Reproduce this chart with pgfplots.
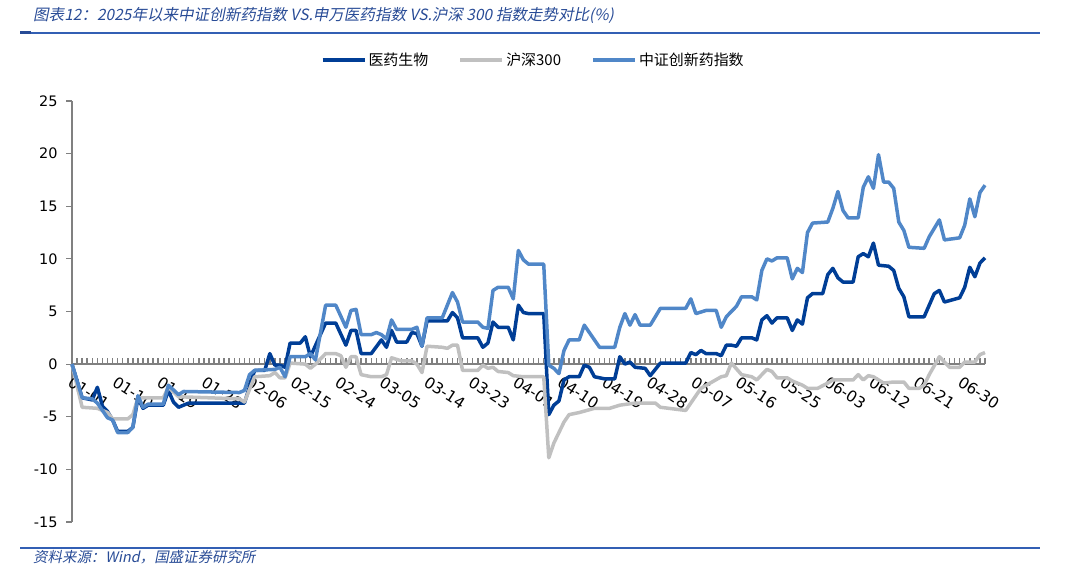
\documentclass[border=0pt]{standalone}
\usepackage{pgfplots}
\pgfplotsset{compat=1.18}
\usepackage{fontspec}
\setmainfont{DejaVu Sans}
\newfontfamily\cjk{Noto Sans CJK SC}
\newfontfamily\cjkit[FakeSlant=0.2]{Noto Sans CJK SC}
\definecolor{yyblue}{RGB}{0,62,150}
\definecolor{cxblue}{RGB}{80,135,200}
\definecolor{hsgray}{RGB}{192,192,192}
\definecolor{axgray}{RGB}{128,128,128}
\definecolor{ttblue}{RGB}{40,75,150}
\definecolor{rulecol}{RGB}{50,95,180}
\begin{document}
\begin{tikzpicture}[x=1bp,y=1bp]
\path[use as bounding box] (0,0) rectangle (1080,583);
% title and rules
\node[anchor=base west, text=ttblue, inner sep=0, font=\cjkit\fontsize{15.6}{18}\selectfont] at (33,562)
  {图表12：2025年以来中证创新药指数 VS.申万医药指数 VS.沪深 300 指数走势对比(\%)};
\draw[rulecol, line width=1.2bp] (20,550) -- (1040,550);
\fill[ttblue] (20,548.5) rectangle (31,551.5);
\draw[rulecol, line width=1.2bp] (20,35) -- (1040,35);
\node[anchor=base west, text=ttblue, inner sep=0, font=\cjkit\fontsize{14.5}{17}\selectfont] at (33,20)
  {资料来源：Wind，国盛证券研究所};

\begin{axis}[
  at={(72bp,61bp)}, anchor=south west,
  scale only axis, width=913bp, height=421bp,
  xmin=0, xmax=180, ymin=-15, ymax=25,
  axis x line=middle, axis y line=left,
  hide obscured x ticks=false,
  x axis line style={-, axgray, line width=2.5bp},
  y axis line style={-, axgray, line width=1.2bp},
  tick align=center,
  major tick length=6bp, minor tick length=6bp,
  xtick={0,8.774,17.548,26.322,35.096,43.87,52.644,61.418,70.192,78.966,87.74,96.514,105.288,114.062,122.836,131.61,140.384,149.158,157.932,166.706,175.48},
  minor xtick={0,1,...,180},
  xticklabels={01-01,01-10,01-19,01-28,02-06,02-15,02-24,03-05,03-14,03-23,04-01,04-10,04-19,04-28,05-07,05-16,05-25,06-03,06-12,06-21,06-30},
  major x tick style={draw=none},
  minor x tick style={axgray, line width=1.5bp, yshift=3bp},
  ytick={-15,-10,...,25},
  yticklabels={-15,-10,-5,0,5,10,15,20,25},
  y tick style={axgray, line width=1.2bp, xshift=-3bp},
  xticklabel style={font=\fontsize{15.5}{17}\selectfont, rotate=-33, anchor=north west, xshift=2bp, yshift=-3bp},
  yticklabel style={font=\fontsize{14.5}{16}\selectfont, anchor=east, xshift=-8bp},
  legend style={at={(0.505,1.097)}, anchor=center, draw=none, fill=none,
    legend columns=3, font=\cjk\fontsize{15}{18}\selectfont,
    /tikz/every even column/.append style={column sep=28bp}},
  legend image code/.code={\draw[#1, line width=4bp] (0bp,0bp) -- (42bp,0bp);},
  clip=false,
  every axis plot/.append style={line width=3.5bp, line join=round, no markers},
]
\addplot[yyblue] coordinates {
(0,0)(2,-3.2)(4,-3.4)(5,-2.2)(6,-4.0)(7,-4.5)(8,-5.3)(9,-6.4)(11,-6.4)(12,-6.0)(13,-3.2)(14,-4.2)(15,-3.9)(18,-3.9)(19,-2.5)(20,-3.6)(21,-4.1)(22,-3.9)(23,-3.7)(34,-3.7)(36,-0.6)(38,-0.6)(39,1.0)(40,-0.1)(41,-0.1)(42,-0.3)(43,2.0)(45,2.0)(46,2.6)(47,0.7)(50,3.9)(52,3.9)(54,1.8)(55,3.2)(56,3.2)(57,1.0)(59,1.0)(61,2.3)(62,1.6)(63,3.2)(64,2.1)(66,2.1)(67,3.0)(68,2.9)(69,1.7)(70,4.1)(74,4.1)(75,4.9)(76,4.4)(77,2.5)(80,2.5)(81,1.6)(82,2.0)(83,4.0)(84,3.5)(86,3.5)(87,2.3)(88,5.6)(89,4.9)(90,4.8)(93,4.8)(94,-4.8)(95,-3.9)(96,-3.5)(97,-1.5)(98,-1.2)(100,-1.2)(101,-0.1)(102,-0.3)(103,-1.2)(105,-1.4)(107,-1.4)(108,0.7)(109,0.0)(110,0.2)(111,-0.3)(113,-0.4)(114,-1.1)(116,0.1)(121,0.1)(122,1.1)(123,0.9)(124,1.3)(125,1.0)(127,1.0)(128,0.8)(129,1.8)(130,1.8)(131,1.7)(132,2.5)(134,2.5)(135,2.3)(136,4.2)(137,4.6)(138,3.9)(139,4.4)(141,4.4)(142,3.2)(143,4.2)(144,3.8)(145,6.3)(146,6.7)(148,6.7)(149,8.5)(150,9.1)(151,8.2)(152,7.8)(154,7.8)(155,10.2)(156,10.5)(157,10.2)(158,11.5)(159,9.4)(161,9.3)(162,8.9)(163,7.2)(164,6.4)(165,4.5)(168,4.5)(169,5.6)(170,6.7)(171,7.0)(172,5.9)(175,6.3)(176,7.3)(177,9.2)(178,8.3)(179,9.6)(180,10.1)
};
\addlegendentry{医药生物}
\addplot[hsgray] coordinates {
(0,0)(2,-4.1)(5,-4.2)(7,-4.6)(8,-5.2)(11,-5.2)(12,-4.8)(13,-3.2)(18,-3.2)(19,-2.2)(21,-3.1)(33,-3.3)(34,-3.6)(36,-1.2)(39,-1.1)(40,-0.8)(41,-1.3)(42,-1.3)(43,0.1)(46,0.0)(47,-0.4)(48,0.0)(50,1.0)(52,1.0)(53,0.8)(54,-0.3)(55,0.7)(56,0.7)(57,-1.0)(59,-1.2)(61,-1.2)(62,-1.0)(63,0.6)(65,0.3)(67,0.3)(68,0.0)(69,-0.8)(70,1.7)(73,1.6)(74,1.5)(75,1.8)(76,1.8)(77,-0.6)(80,-0.6)(81,-0.1)(82,-0.4)(83,-0.3)(84,-0.7)(86,-0.8)(87,-1.1)(89,-1.2)(93,-1.2)(94,-8.9)(95,-7.5)(97,-5.5)(98,-4.8)(100,-4.6)(103,-4.2)(106,-4.2)(108,-3.9)(111,-3.7)(115,-3.7)(116,-4.1)(121,-4.4)(122,-3.7)(124,-2.3)(128,-1.2)(129,-1.1)(130,0.1)(132,-1.0)(134,-1.2)(135,-1.5)(137,-0.5)(138,-0.7)(139,-1.3)(141,-1.3)(142,-1.6)(144,-2.0)(145,-2.3)(147,-2.3)(149,-1.8)(150,-1.5)(154,-1.5)(155,-1.0)(156,-1.5)(157,-1.1)(158,-1.2)(160,-1.8)(162,-1.7)(164,-1.7)(165,-2.3)(167,-2.3)(168,-2.0)(169,-1.0)(171,0.7)(173,-0.3)(175,-0.3)(176,0.2)(178,0.2)(179,0.9)(180,1.1)
};
\addlegendentry{沪深300}
\addplot[cxblue] coordinates {
(0,0)(2,-3.2)(4,-3.3)(5,-3.7)(7,-5.1)(8,-5.3)(9,-6.5)(11,-6.5)(12,-6.0)(13,-3.0)(14,-4.1)(15,-3.8)(18,-3.8)(19,-2.0)(21,-2.9)(22,-2.6)(33,-2.7)(34,-2.5)(35,-1.0)(36,-0.6)(40,-0.5)(41,-0.3)(42,-1.2)(43,0.7)(46,0.7)(47,1.0)(48,0.4)(50,5.6)(52,5.6)(54,3.5)(55,5.1)(56,5.2)(57,2.8)(59,2.8)(60,3.0)(61,2.8)(62,2.4)(63,4.2)(64,3.3)(67,3.3)(68,3.5)(69,1.7)(70,4.4)(73,4.4)(74,5.6)(75,6.8)(76,5.9)(77,4.0)(80,4.0)(81,3.5)(82,3.4)(83,7.0)(84,7.3)(86,7.3)(87,6.2)(88,10.8)(89,9.9)(90,9.5)(93,9.5)(94,-0.1)(95,-0.4)(96,-0.9)(97,1.3)(98,2.3)(100,2.3)(101,3.7)(102,3.0)(104,1.6)(107,1.6)(108,3.5)(109,4.8)(110,3.7)(111,4.7)(112,3.7)(114,3.7)(116,5.3)(121,5.3)(122,6.2)(123,4.8)(125,5.1)(127,5.1)(128,3.5)(129,4.5)(131,5.5)(132,6.4)(134,6.4)(135,6.1)(136,8.9)(137,10.0)(138,9.8)(139,10.1)(141,10.1)(142,8.1)(143,9.1)(144,8.7)(145,12.5)(146,13.4)(149,13.5)(150,14.8)(151,16.4)(152,14.6)(153,13.9)(155,13.9)(156,16.8)(157,17.8)(158,16.7)(159,19.9)(160,17.3)(161,17.3)(162,16.7)(163,13.5)(164,12.7)(165,11.1)(168,11.0)(169,12.1)(171,13.7)(172,11.8)(175,12.0)(176,13.2)(177,15.7)(178,14.0)(179,16.3)(180,17.0)
};
\addlegendentry{中证创新药指数}
\end{axis}
\end{tikzpicture}
\end{document}
